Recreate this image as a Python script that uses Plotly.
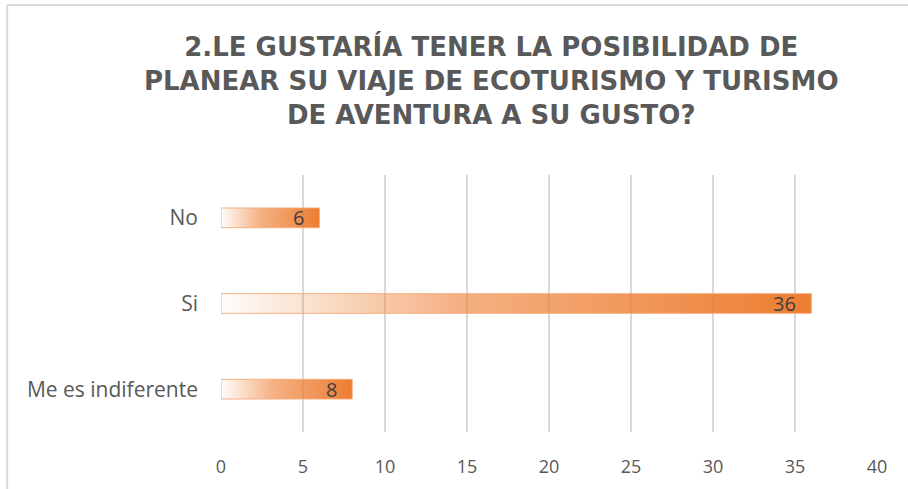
import plotly.graph_objects as go

# datos de la encuesta
categorias = ['No', 'Si', 'Me es indiferente']
valores = [6, 36, 8]
ticks_x = [0, 5, 10, 15, 20, 25, 30, 35, 40]

titulo = ('2.LE GUSTARÍA TENER LA POSIBILIDAD DE<br>'
          'PLANEAR SU VIAJE DE ECOTURISMO Y TURISMO<br>'
          'DE AVENTURA A SU GUSTO?')

naranja = 'rgb(237,125,49)'
gris = '#595959'
media_barra = 0.115

fig = go.Figure()

# barras con degradado (blanco -> naranja)
for i, v in enumerate(valores):
    fig.add_trace(go.Scatter(
        x=[0, v, v, 0, 0],
        y=[i - media_barra, i - media_barra, i + media_barra, i + media_barra, i - media_barra],
        mode='lines', fill='toself',
        line=dict(color='rgba(245,170,120,0.9)', width=1),
        fillgradient=dict(type='horizontal',
                          colorscale=[[0, 'rgba(237,125,49,0.02)'],
                                      [0.4, 'rgba(237,125,49,0.6)'],
                                      [1, naranja]]),
        hoverinfo='skip', showlegend=False))

# etiquetas de datos (dentro, al final de la barra)
etiquetas = [dict(x=v, y=i, text=str(v), xanchor='right', xshift=-13, showarrow=False,
                  font=dict(family='Open Sans', size=20, color='#404040'))
             for i, v in enumerate(valores)]

fig.update_layout(
    width=908, height=489,
    margin=dict(l=221, r=31, t=175, b=57),
    paper_bgcolor='white', plot_bgcolor='white',
    title=dict(text=titulo, x=0.541, xanchor='center', y=0.885, yanchor='top',
               font=dict(family='DejaVu Sans', size=26, color=gris, weight='bold')),
    xaxis=dict(range=[0, 40], tickvals=ticks_x, showgrid=True,
               gridcolor='#D9D9D9', gridwidth=2, zeroline=False,
               tickfont=dict(family='Open Sans', size=18, color=gris),
               ticklabelstandoff=22, fixedrange=True),
    yaxis=dict(range=[2.5, -0.5], tickvals=list(range(len(categorias))),
               ticktext=categorias, showgrid=False, zeroline=False,
               tickfont=dict(family='Open Sans', size=21, color=gris),
               ticklabelstandoff=22, fixedrange=True),
    annotations=etiquetas,
    shapes=[
        dict(type='line', xref='paper', yref='paper', x0=-0.326, x1=1.2, y0=1.661, y1=1.661,
             line=dict(color='#D9D9D9', width=2)),
        dict(type='line', xref='paper', yref='paper', x0=-0.326, x1=-0.326, y0=-0.3, y1=1.661,
             line=dict(color='#D9D9D9', width=2)),
    ],
)

fig.write_html('out.html', config={'displayModeBar': False},
               post_script="document.body.style.margin='0';")
